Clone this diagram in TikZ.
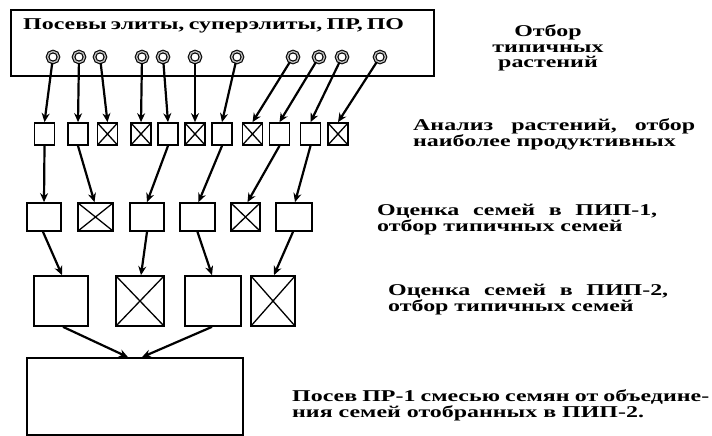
\documentclass[tikz,border=0pt]{standalone}
\usepackage{fontspec}
\setmainfont[FakeStretch=1.45]{Liberation Serif}
\usetikzlibrary{arrows.meta}
\tikzset{
  lbl/.style={font=\bfseries\fontsize{16.5}{15.5}\selectfont, inner sep=0pt, align=left, anchor=west},
  seed/.style={circle, draw, line width=1.1pt, double=gray!55, double distance=1.4pt, minimum size=11pt, inner sep=0pt},
  bx/.style={draw, line width=1.7pt, inner sep=0pt, minimum width=#1},
  crossed/.style={path picture={\draw[line width=1.3pt] (path picture bounding box.north west) -- (path picture bounding box.south east) (path picture bounding box.north east) -- (path picture bounding box.south west);}},
  arr/.style={line width=2.2pt, -{Stealth[length=9pt,width=8pt]}},
}
\begin{document}
\begin{tikzpicture}[x=1pt,y=-1pt]
\useasboundingbox (0,0) rectangle (712,436);
% top box
\node[draw, line width=1.7pt, minimum width=423pt, minimum height=66pt, anchor=north west, inner sep=0pt] (top) at (10,9) {};
\node[lbl] (title) at (23,26) {\hbox to 370pt{Посевы элиты, суперэлиты, ПР, ПО}};
% seeds
\foreach \i/\x in {1/53,2/79,3/100,4/142,5/163,6/195,7/237,8/293,9/319,10/342,11/380}
  \node[seed] (c\i) at (\x,57) {};
% small boxes
\foreach \i/\x/\c in {1/44.5/0,2/78/0,3/107.5/1,4/141/1,5/168/0,6/195/1,7/222/0,8/252.5/1,9/279.5/0,10/310.5/0,11/338/1}{
  \ifnum\c=1
    \node[bx=20pt, minimum height=22pt, crossed] (s\i) at (\x,134) {};
  \else
    \node[bx=20pt, minimum height=22pt] (s\i) at (\x,134) {};
  \fi
}
% medium boxes
\node[bx=34pt, minimum height=28pt] (m1) at (44,217) {};
\node[bx=35pt, minimum height=28pt, crossed] (m2) at (95.5,217) {};
\node[bx=34pt, minimum height=28pt] (m3) at (147,217) {};
\node[bx=35pt, minimum height=28pt] (m4) at (197.5,217) {};
\node[bx=29pt, minimum height=28pt, crossed] (m5) at (245.5,217) {};
\node[bx=36pt, minimum height=28pt] (m6) at (294,217) {};
% big boxes
\node[bx=54pt, minimum height=50pt] (B1) at (61,301) {};
\node[bx=48pt, minimum height=50pt, crossed] (B2) at (140,301) {};
\node[bx=56pt, minimum height=50pt] (B3) at (213,301) {};
\node[bx=44pt, minimum height=50pt, crossed] (B4) at (273,301) {};
% final box
\node[bx=216pt, minimum height=77pt] (P) at (135,396.5) {};
% arrows seeds -> small boxes
\foreach \i in {1,...,11}
  \draw[arr] (c\i) -- (s\i.north);
% small -> medium
\draw[arr] (s1.south) -- (m1.north);
\draw[arr] (s2.south) -- ([xshift=-1pt]m2.north);
\draw[arr] (s5.south) -- (m3.north);
\draw[arr] (s7.south) -- ([xshift=1pt]m4.north);
\draw[arr] (s9.south) -- ([xshift=2pt]m5.north);
\draw[arr] (s10.south) -- ([xshift=1pt]m6.north);
% medium -> big
\draw[arr] ([xshift=-1pt]m1.south) -- ([xshift=1pt]B1.north);
\draw[arr] (m3.south) -- ([xshift=1pt]B2.north);
\draw[arr] (m4.south) -- ([xshift=-1pt]B3.north);
\draw[arr] ([xshift=-1pt]m6.south) -- ([xshift=1pt]B4.north);
% big -> final
\draw[arr] ([xshift=2pt]B1.south) -- ([xshift=-7pt]P.north);
\draw[arr] ([xshift=-1pt]B3.south) -- ([xshift=7pt]P.north);
% labels
\node[lbl, anchor=center, align=center] (t1) at (548,48) {Отбор\\типичных\\растений};
\node[lbl] (t2) at (413,134.5) {\hbox to 282pt{Анализ\hfill растений,\hfill отбор}\\наиболее продуктивных};
\node[lbl] (t3) at (377,219.5) {\hbox to 280pt{Оценка\hfill семей\hfill в\hfill ПИП-1,}\\отбор типичных семей};
\node[lbl] (t4) at (388,299.5) {\hbox to 280pt{Оценка\hfill семей\hfill в\hfill ПИП-2,}\\отбор типичных семей};
\node[lbl] (t5) at (292,405.5) {\hbox to 417pt{Посев ПР-1 смесью семян от объедине-}\\ния семей отобранных в ПИП-2.};
\end{tikzpicture}
\end{document}
